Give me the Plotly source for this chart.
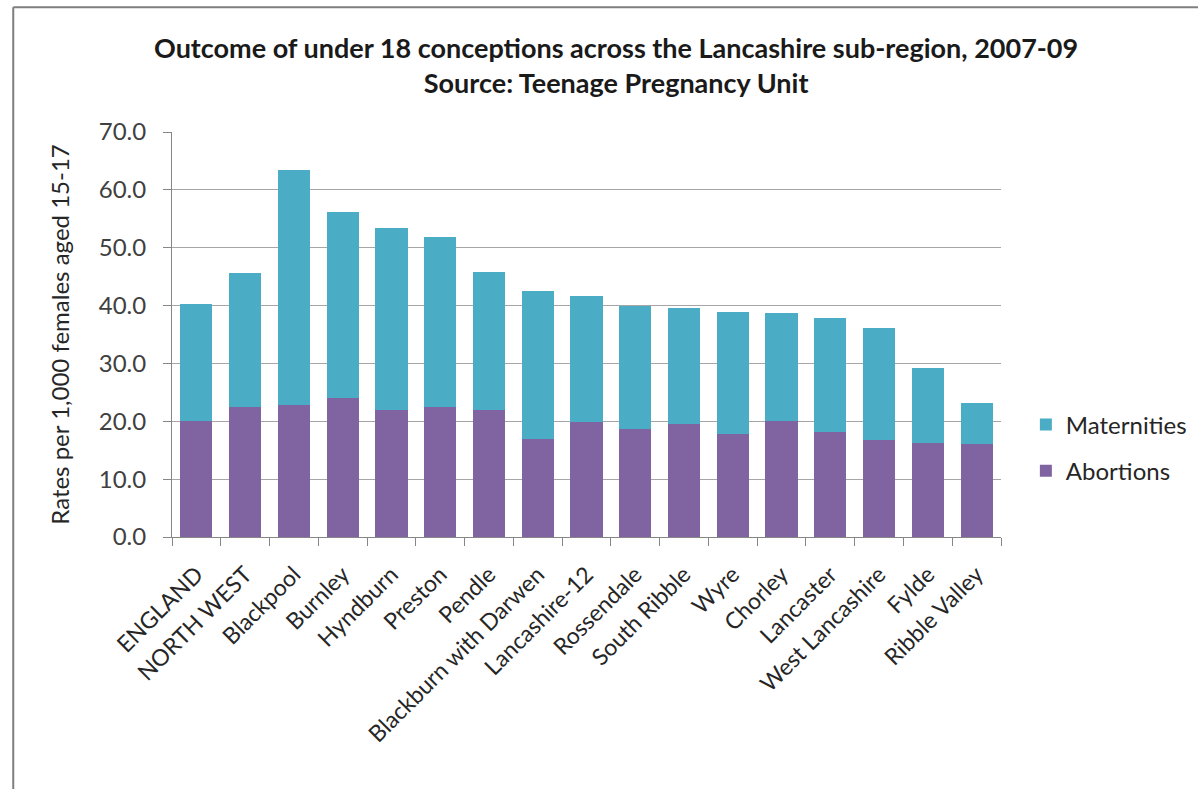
import plotly.graph_objects as go

# Under-18 conception outcomes, Lancashire sub-region, 2007-09 (rate per 1,000 females aged 15-17)
areas = [
    "ENGLAND", "NORTH WEST", "Blackpool", "Burnley", "Hyndburn", "Preston",
    "Pendle", "Blackburn with Darwen", "Lancashire-12", "Rossendale",
    "South Ribble", "Wyre", "Chorley", "Lancaster", "West Lancashire",
    "Fylde", "Ribble Valley",
]
abortions = [20.0, 22.4, 22.8, 24.1, 21.9, 22.4, 21.9, 17.0, 19.8, 18.7,
             19.5, 17.8, 20.0, 18.1, 16.7, 16.3, 16.0]
maternities = [20.2, 23.2, 40.6, 32.1, 31.5, 29.5, 23.9, 25.5, 21.8, 21.3,
               20.1, 21.1, 18.8, 19.7, 19.4, 12.9, 7.2]

y_ticks = [0, 10, 20, 30, 40, 50, 60, 70]

title_lines = [
    "Outcome of under 18 conceptions across the Lancashire sub-region, 2007-09",
    "Source: Teenage Pregnancy Unit",
]

FONT = "Lato, Calibri, Carlito, sans-serif"
TEXT = "#404040"
AXIS = "#868686"
GRID = "#a6a6a6"

fig = go.Figure()
fig.add_trace(go.Bar(
    x=areas, y=abortions, name="Abortions", legendgroup="a", legendrank=2,
    marker=dict(color="#8064A2", line=dict(width=0)),
))
fig.add_trace(go.Bar(
    x=areas, y=maternities, name="Maternities", legendgroup="m", legendrank=1,
    marker=dict(color="#4BACC6", line=dict(width=0)),
))

fig.update_layout(
    width=1198, height=789,
    barmode="stack", bargap=0.34,
    paper_bgcolor="white", plot_bgcolor="white",
    margin=dict(l=172, r=197, t=132, b=252, autoexpand=False),
    font=dict(family=FONT, color=TEXT),
    legend=dict(
        x=1.030, xanchor="left", y=0.22, yanchor="middle",
        traceorder="grouped", tracegroupgap=12,
        font=dict(family=FONT, size=24, color="#262626"),
        itemwidth=30,
    ),
    showlegend=True,
)

# Two-line bold title above the plot
fig.add_annotation(
    text="<br>".join(title_lines), xref="paper", yref="paper",
    x=0.535, y=1.165, xanchor="center", yanchor="middle", showarrow=False,
    font=dict(family=FONT, size=27, color="#1a1a1a", weight="bold"),
    align="center",
)

fig.update_xaxes(
    type="category", tickangle=-45, tickfont=dict(family=FONT, size=23, color="#262626"),
    showline=True, linecolor=AXIS, linewidth=1,
    ticks="outside", tickson="boundaries", ticklen=8, tickcolor=AXIS,
    ticklabelstandoff=14,
    showgrid=False,
)
fig.update_yaxes(
    range=[0, 70], tickvals=y_ticks, tickformat=".1f",
    tickfont=dict(family=FONT, size=24, color=TEXT),
    showline=True, linecolor=AXIS, linewidth=1,
    ticks="outside", ticklen=8, tickcolor=AXIS,
    ticklabelstandoff=12,
    showgrid=True, gridcolor=GRID, gridwidth=1, zeroline=False,
    title=dict(text="Rates per 1,000 females aged 15-17",
               font=dict(family=FONT, size=24, color="#262626"), standoff=22),
)

# Chart frame: top and left edges
fig.add_shape(type="line", xref="paper", yref="paper",
              x0=-0.1915, x1=1.3, y0=1.308, y1=1.308,
              line=dict(color="#7f7f7f", width=2))
fig.add_shape(type="line", xref="paper", yref="paper",
              x0=-0.1915, x1=-0.1915, y0=1.308, y1=-0.7,
              line=dict(color="#7f7f7f", width=2))

fig.write_html("out.html")
